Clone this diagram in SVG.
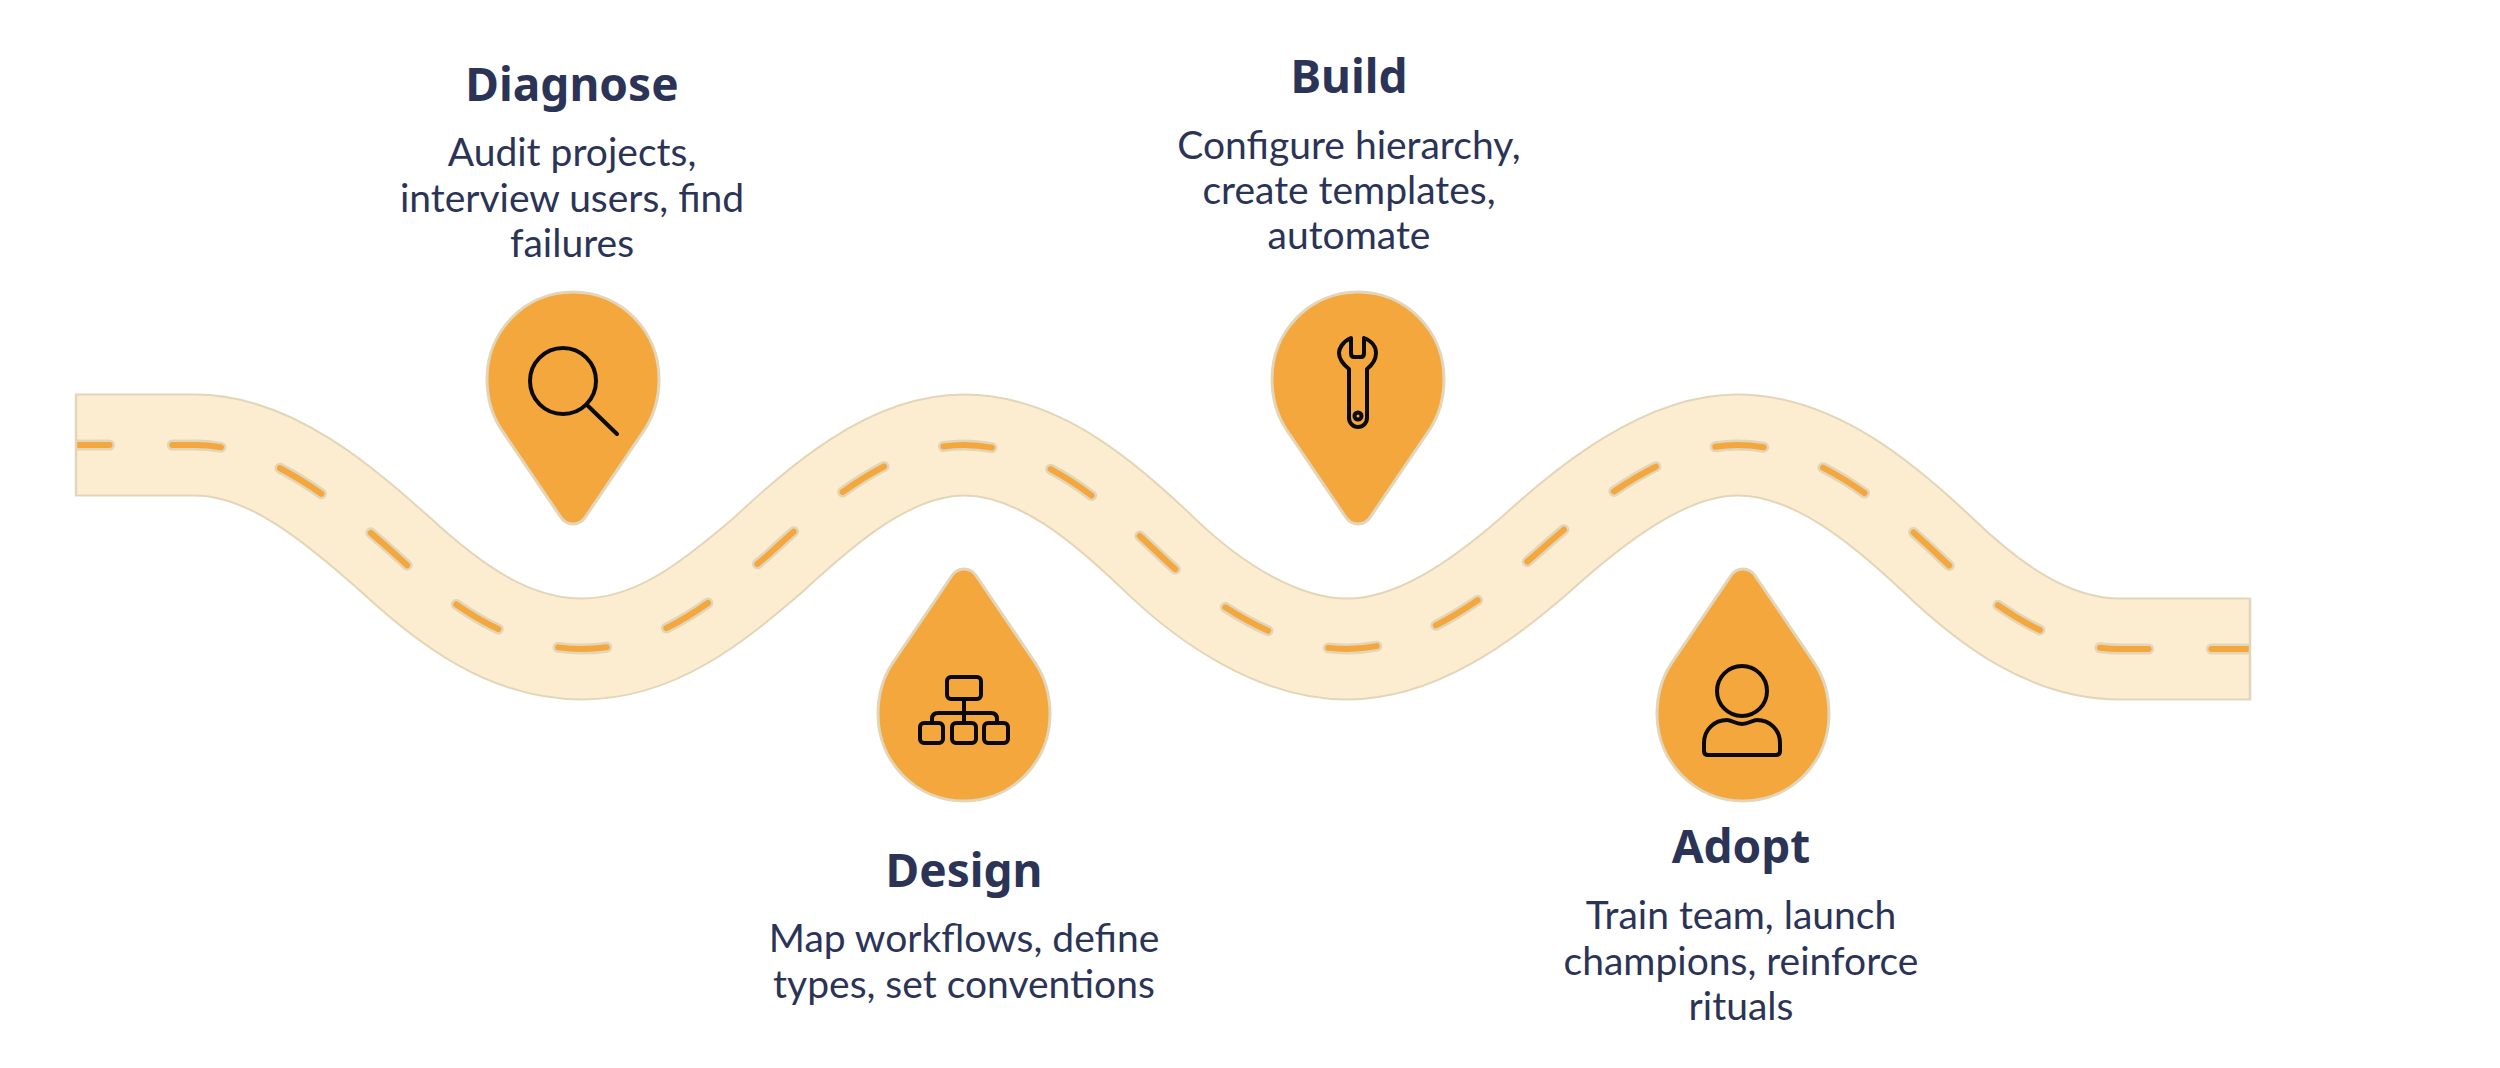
<svg xmlns="http://www.w3.org/2000/svg" width="2500" height="1068" viewBox="0 0 2500 1068">
<style>
.h{font-family:"Noto Sans","Open Sans",sans-serif;font-weight:700;font-size:46px;fill:#2b3457;text-anchor:middle}
.b{font-family:Lato,"Liberation Sans",sans-serif;font-size:39px;fill:#2b3457;text-anchor:middle}
.pin{fill:#f3a73c;stroke:#e3d5b8;stroke-width:3}
.ic{fill:none;stroke:#0a0a0a;stroke-width:4;stroke-linecap:round;stroke-linejoin:round}
.c{fill:none}
.d{stroke-linecap:round;stroke-dasharray:48 62;stroke-dashoffset:14}
</style>
<defs>
<path id="center" pathLength="2445" d="M75,445 H195 C270,445 340,505 396,555 C450,605 510,649 582,649 C655,649 712,603 768,555 C822,505 890,445 964,445 C1040,445 1108,505 1160,555 C1212,605 1280,649 1347,649 C1415,649 1480,603 1535,555 C1590,505 1665,445 1737,445 C1815,445 1885,505 1938,555 C1990,605 2050,649 2120,649 H2251"/>
<path id="pin" d="M0,145 C-6,145 -10,142 -13,137 L-72,50 C-81,36 -86,18 -86,0 C-86,-48 -48,-87 0,-87 C48,-87 86,-48 86,0 C86,18 81,36 72,50 L13,137 C10,142 6,145 0,145Z"/>
<clipPath id="rc"><rect x="75" y="380" width="2176" height="340"/></clipPath>
</defs>
<g id="connectors">
<g clip-path="url(#rc)">
<use href="#center" class="c" stroke="#e3d5b8" stroke-width="103"/>
<use href="#center" class="c" stroke="#fcedd1" stroke-width="99"/>
<use href="#center" class="c d" stroke="#e3d5b8" stroke-width="11"/>
<use href="#center" class="c d" stroke="#f3a73c" stroke-width="6"/>
</g>
<path d="M76,394 V496 M2250,598 V700" fill="none" stroke="#e3d5b8" stroke-width="2.5"/>
</g>
<g id="diagnose">
<use href="#pin" class="pin" x="573" y="379"/>
<g class="ic"><circle cx="563" cy="381" r="33"/><path d="M587,405 L617,434"/></g>
<text class="h" x="572" y="101">Diagnose</text>
<text class="b" x="572" y="166">Audit projects,</text>
<text class="b" x="572" y="212">interview users, find</text>
<text class="b" x="572" y="257">failures</text>
</g>
<g id="design">
<use href="#pin" class="pin" transform="translate(964,714) scale(1,-1)"/>
<g class="ic">
<rect x="947" y="677" width="34" height="22" rx="4"/>
<rect x="920" y="723" width="23" height="20" rx="4"/>
<rect x="952" y="723" width="24" height="20" rx="4"/>
<rect x="984" y="723" width="24" height="20" rx="4"/>
<path d="M964,699 V723 M932,723 V719 Q932,713 938,713 H991 Q997,713 997,719 V723"/>
</g>
<text class="h" x="964" y="887">Design</text>
<text class="b" x="964" y="952">Map workflows, define</text>
<text class="b" x="964" y="998">types, set conventions</text>
</g>
<g id="build">
<use href="#pin" class="pin" x="1358" y="379"/>
<g class="ic">
<path d="M1351,338 C1342,342 1339,349 1339,353 C1339,360 1344,365 1349,369 L1349,418 A9,9 0 0 0 1367,418 L1367,369 C1372,365 1376,360 1376,353 C1376,347 1372,341 1364,338 L1364,353 Q1364,357 1361,357 L1354,357 Q1351,357 1351,353 Z"/>
<circle cx="1358" cy="416" r="3.5"/>
</g>
<text class="h" x="1349" y="93">Build</text>
<text class="b" x="1349" y="159">Configure hierarchy,</text>
<text class="b" x="1349" y="204">create templates,</text>
<text class="b" x="1349" y="249">automate</text>
</g>
<g id="adopt">
<use href="#pin" class="pin" transform="translate(1743,714) scale(1,-1)"/>
<g class="ic">
<circle cx="1742" cy="691" r="25"/>
<path d="M1708,755 H1776 Q1780,755 1780,751 V743 C1780,730 1770,720 1757,720 C1752,720 1749,724 1742,724 C1735,724 1732,720 1727,720 C1714,720 1704,730 1704,743 V751 Q1704,755 1708,755Z"/>
</g>
<text class="h" x="1741" y="863">Adopt</text>
<text class="b" x="1741" y="929">Train team, launch</text>
<text class="b" x="1741" y="975">champions, reinforce</text>
<text class="b" x="1741" y="1020">rituals</text>
</g>
</svg>
